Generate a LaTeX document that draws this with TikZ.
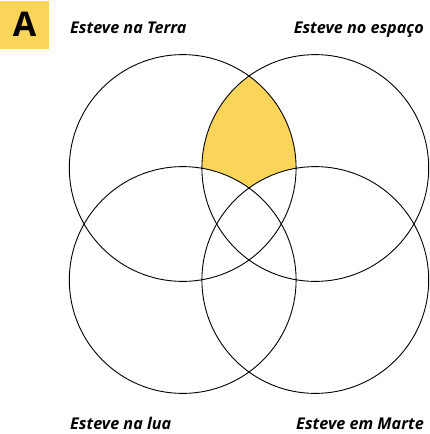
\documentclass[tikz,border=0pt]{standalone}
\usepackage{fontspec}
\setmainfont{Open Sans}
\definecolor{venny}{HTML}{FAD55A}
\begin{document}
\begin{tikzpicture}[x=1pt,y=-1pt,
  ring/.style={draw=black,line width=0.9pt},
  lbl/.style={font=\bfseries\itshape\fontsize{16.2}{19}\selectfont,inner sep=0pt}]
\useasboundingbox (0,0) rectangle (430,434);
\def\R{113.4pt}
\coordinate (tl) at (182.7,168);
\coordinate (tr) at (315.3,168);
\coordinate (bl) at (182.7,280);
\coordinate (br) at (315.3,280);
\begin{scope}
  \clip (tl) circle (\R);
  \clip (tr) circle (\R);
  \fill[venny] (0,0) rectangle (430,434);
  \fill[white] (bl) circle (\R);
  \fill[white] (br) circle (\R);
\end{scope}
\draw[ring] (tl) circle (\R);
\draw[ring] (tr) circle (\R);
\draw[ring] (bl) circle (\R);
\draw[ring] (br) circle (\R);
\node[fill=venny,minimum width=49pt,minimum height=48pt,inner sep=0pt,anchor=north west] (badge) at (0,0.5) {};
\node[font=\bfseries\fontsize{34}{36}\selectfont,inner sep=0pt] (letter) at (badge.center) {A};
\node[lbl,anchor=base west] (terra) at (70,33) {Esteve na Terra};
\node[lbl,anchor=base east] (espaco) at (424,33) {Esteve no espaço};
\node[lbl,anchor=base west] (lua) at (70,429) {Esteve na lua};
\node[lbl,anchor=base east] (marte) at (424,429) {Esteve em Marte};
\end{tikzpicture}
\end{document}
